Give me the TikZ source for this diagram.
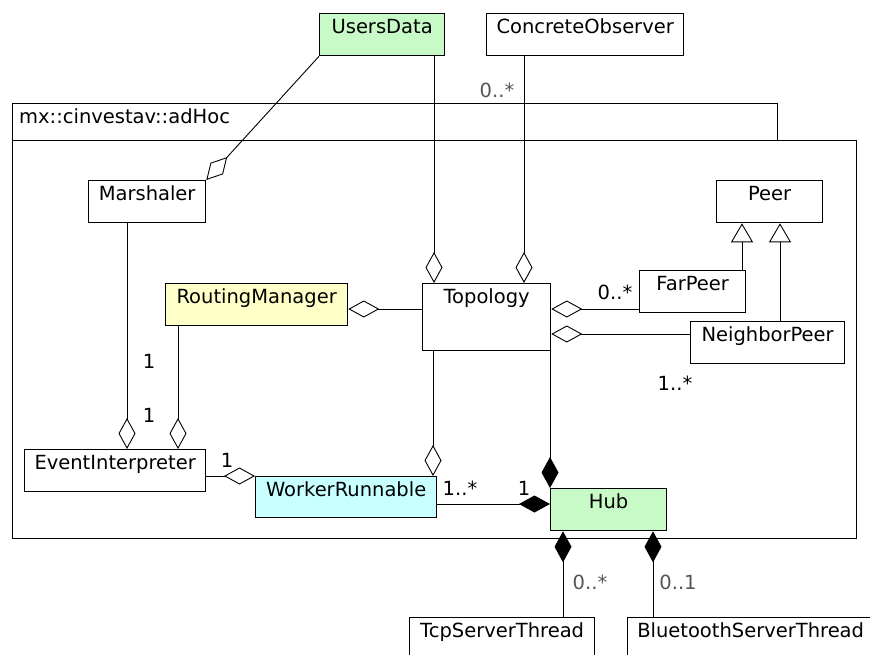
\documentclass[tikz,border=0pt]{standalone}
\usepackage{fontspec}
\setmainfont{DejaVu Sans}
\usetikzlibrary{arrows.meta,calc}
\definecolor{clsgreen}{RGB}{200,250,200}
\definecolor{clsyellow}{RGB}{255,255,200}
\definecolor{clscyan}{RGB}{200,255,255}
\definecolor{multgray}{RGB}{85,85,85}
\begin{document}
\begin{tikzpicture}[x=1pt,y=-1pt,
  every node/.style={font=\fontsize{19.5}{22}\selectfont},
  cls/.style={draw, line width=1.3pt, anchor=north west, inner xsep=0pt,
    inner ysep=7pt, text height=13pt, text depth=15pt},
  pkgbox/.style={draw, line width=1.3pt, anchor=north west, inner sep=0pt},
  link/.style={line width=0.9pt},
  agg/.style={link, -{Diamond[open, length=31pt, width=17pt]}},
  comp/.style={link, -{Diamond[length=31pt, width=17pt]}},
  gen/.style={link, -{Triangle[open, length=19pt, width=22pt]}},
  mult/.style={inner sep=0pt, anchor=center},
]
\useasboundingbox (0,0) rectangle (870,654);

% package frame
\node[pkgbox, minimum width=765pt, minimum height=37pt] (tab) at (12,103) {};
\node[pkgbox, minimum width=844pt, minimum height=398pt] (pkg) at (12,140) {};
\node[anchor=base west, inner sep=0pt] (pkgname) at (19,123) {mx::cinvestav::adHoc};

% classes
\node[cls, fill=clsgreen, minimum width=125pt] (ud) at (319,13) {UsersData};
\node[cls, minimum width=197pt] (co) at (486,13) {ConcreteObserver};
\node[cls, minimum width=117pt] (mar) at (88,180) {Marshaler};
\node[cls, minimum width=106pt] (peer) at (716,180) {Peer};
\node[cls, fill=clsyellow, minimum width=182pt] (rm) at (165,283) {RoutingManager};
\node[cls, minimum width=128pt, text depth=40pt] (top) at (422,283) {Topology};
\node[cls, minimum width=106pt] (fp) at (639,270) {FarPeer};
\node[cls, minimum width=154pt] (np) at (690,321) {NeighborPeer};
\node[cls, minimum width=181pt] (ei) at (24,449) {EventInterpreter};
\node[cls, fill=clscyan, minimum width=181pt, text depth=14pt] (wr) at (255,476) {WorkerRunnable};
\node[cls, fill=clsgreen, minimum width=116pt] (hub) at (550,488) {Hub};
\node[cls, minimum width=185pt] (tcp) at (409,617) {TcpServerThread};
\node[cls, minimum width=246pt] (bt) at (627,617) {BluetoothServerThread};

% attachment points
\coordinate (topU) at ($(top.north west)+(12,0)$);
\coordinate (topC) at ($(top.north west)+(102,0)$);
\coordinate (eiM) at ($(ei.north west)+(103,0)$);
\coordinate (eiR) at ($(ei.north west)+(154,0)$);
\coordinate (rmR) at ($(rm.north east)+(0,26)$);
\coordinate (topF) at ($(top.north east)+(0,26)$);
\coordinate (topN) at ($(top.north east)+(0,51)$);
\coordinate (peerF) at ($(peer.south west)+(26,0)$);
\coordinate (peerN) at ($(peer.south west)+(64,0)$);
\coordinate (wrT) at ($(wr.north west)+(178,0)$);
\coordinate (hubW) at ($(hub.north west)+(0,16)$);
\coordinate (hubA) at ($(hub.south west)+(13,0)$);
\coordinate (hubB) at ($(hub.south west)+(103,0)$);

% aggregations
\draw[agg] (ud.south west) -- (mar.north east);
\draw[agg] (ud.south -| topU) -- (topU);
\draw[agg] (co.south -| topC) -- (topC);
\draw[agg] (mar.south -| eiM) -- (eiM);
\draw[agg] (rm.south -| eiR) -- (eiR);
\draw[agg] (top.west |- rmR) -- (rmR);
\draw[agg] (fp.west |- topF) -- (topF);
\draw[agg] (np.west |- topN) -- (topN);
\draw[agg] (top.south -| wrT) -- (wrT);
\draw[agg] (ei.east |- wr.north west) -- (wr.north west);

% compositions
\draw[comp] (hub.north west |- top.south) -- (hub.north west);
\draw[comp] (wr.east |- hubW) -- (hubW);
\draw[comp] (tcp.north -| hubA) -- (hubA);
\draw[comp] (bt.north -| hubB) -- (hubB);

% generalizations
\draw[gen] (fp.north -| peerF) -- (peerF);
\draw[gen] (np.north -| peerN) -- (peerN);

% multiplicities
\node[mult, text=multgray] (m1) at (497,90) {0..*};
\node[mult] (m2) at (149,361) {1};
\node[mult] (m3) at (149,415) {1};
\node[mult] (m4) at (227,460) {1};
\node[mult] (m5) at (615,292) {0..*};
\node[mult] (m6) at (675,383) {1..*};
\node[mult] (m7) at (460,488) {1..*};
\node[mult] (m8) at (524,488) {1};
\node[mult, text=multgray] (m9) at (590,582) {0..*};
\node[mult, text=multgray] (m10) at (678,582) {0..1};
\end{tikzpicture}
\end{document}
